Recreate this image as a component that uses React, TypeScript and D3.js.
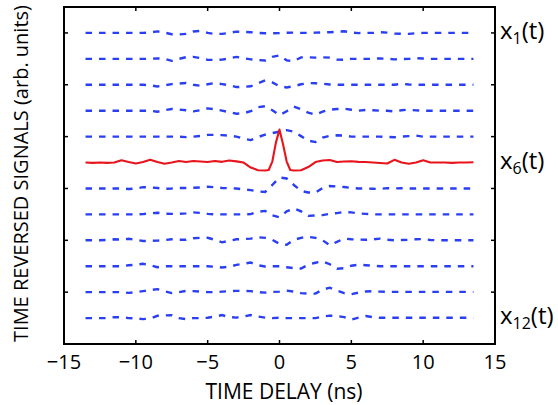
import React from 'react'
import * as d3 from 'd3'

// sample times (ns) for the dashed traces
const times = d3.range(-13.5, 13.51, 0.5)

// time reversed signals, arb. units (one trace spacing = 26 units)
const x1 = [
  0, 0, 0, 0, 0, 0, 0, 0, 0, 0.5,
  1.5, 0.3, -1.3, -1.5, -1, 1.5, 2, 0, -1, -1,
  0, 1.3, 1, 0.7, 0, -0.3, -0.3, -0.2, 0.2, 0.3,
  0, 0, 0.3, 0.5, 0.7, 1.2, 1.7, 0.5, -0.2, 0,
  0, 0.7, 0.3, -0.7, -0.8, -1, -0.3, 0, 0, 0,
  0, 0, 0, 0, 0,
]
const x2 = [
  0, 0, 0, 0, 0, 0, 0, 0, 0, 0,
  0.5, 0, -2, 0, 1.7, 2, 0.7, -1, -1, -0.8,
  0.5, 2, 0.5, -0.5, -1.2, -1.7, 2, 3.5, -1.5, -2.3,
  1.5, 1.5, 1.2, 1.5, 1.2, -0.8, -1, 0, 0, 0,
  0, 0.5, 0, -0.5, -0.3, 0, 0.7, 0.3, 0, 0,
  0, 0, 0, 0, 0,
]
const x3 = [
  0, 0, 0, 0, 0, 0, 0, 0, 0, -0.5,
  -1.7, -0.5, 0.7, 1.2, 1.7, 0, -1, 0.5, 1.7, 0.7,
  -0.5, -2.3, -2, -1.5, 1.5, 4.5, 2.3, -1.5, -2.7, -1.5,
  0.5, 1.7, 1.5, 1, 0.3, 0, 0, 0, 0, 0,
  0, 0, 0, 0, 1, 0.3, 0, 0, 0, 0,
  0, 0, 0, 0, 0,
]
const x4 = [
  0, 0, 0, 0, 0, 0, 0, 0, 0, 0,
  -1, 0.5, 1.7, 1.2, 0.5, -0.7, 0.5, 2.3, 1.5, 0,
  -1.5, -3, -2.5, -0.5, 3.5, 4.5, 0.5, -4.5, -0.5, 4,
  1.5, -2, -4, -1, 1, 1.7, 2, 1, 0, 0.7,
  0.5, 0, 0, -0.7, 0.5, 1, 0.3, 0, 0, 0,
  0, 0, 0, 0, 0,
]
const x5 = [
  0, 0, 0, 0, 0, 0, 0, 0, 0, 0,
  0, 0, 0, 0, -0.5, 0, 0.7, 1.7, 1.7, 1.5,
  1, 0, -2, -3.5, -0.5, 2, 3.5, 5, 6.5, 5,
  0.5, -4, -5.5, -1, 0.7, 1.3, 1, 0, 0, 0,
  0, 0, -0.3, -0.7, 0, 0.5, 1, 0, 0, 0,
  0, 0, 0, 0, 0,
]
const x7 = [
  0, 0, 0, 0, 0, 0, -0.5, 0, 1.3, 1,
  0.5, -0.3, 0, 0.5, 0.5, 0.7, 1, 1.7, 1.2, 0.5,
  0.2, 0, -1, -1.7, -3, -3.5, 3.5, 11, 10, 3.5,
  -2.5, -4, -4.3, 0.5, 2.5, 2, 1.5, 0.5, 0, 0,
  -0.3, -0.5, 0.3, 0, 0.3, 0, 0, 0, 0, 0,
  0, 0, 0, 0, 0,
]
const x8 = [
  0, 0, 0, 0, 0, 0, 0, 0, 0.3, 1,
  1.7, 0.7, 0.5, 0.5, 1, 2, 1.5, 0.5, 0, 0,
  0, 0, 0, 0.3, 2.5, 3.5, -1, -3, 3, 6,
  3, -1.5, -1, -0.7, 0.5, 1.3, 2.5, 2, 1, 0.5,
  0, 0, 0, 0, 0, 0, 0, 0, 0, 0,
  0, 0, 0, 0, 0,
]
const x9 = [
  0, 0, 0, 0.3, 1, 0.8, 1.5, 0.5, -0.7, -0.5,
  -0.3, 0.3, 1, 0.5, 0.5, 2, 2.5, 2.5, 0.5, -2,
  -0.5, 1, 1.3, 1.7, 3, 2.5, 0.5, -3.5, -4.5, 0.5,
  2.5, 3.5, 2.5, 0, -5, -1.5, 1.7, 1, 0.7, 0.5,
  1, 1.7, 0.5, 0, 0.3, 0.5, 1, 1.3, 0.3, 0,
  0, 0, 0, 0, 0,
]
const x10 = [
  0, 0, 0, 0, 0, 0, 1, 1.5, 2.5, 1,
  -1, 0, 0, 0, 0, 0, 0, 0, -0.5, -1.3,
  -0.5, 1.3, 2.5, 3.7, 1, -0.3, 0, 0, -1, -2,
  -2.3, 1.5, 3.5, 5, 2, -2.5, -2, 0.5, 1.5, 1,
  0.5, 0, 0, 0, 0, 0, 0, 0, 0, 0,
  0, 0, 0, 0, 0,
]
const x11 = [
  0, 0, 0, 0, 0, 0, -0.7, 0, 1, 2,
  3, 1, -1, 0, 1.3, 1, 0.5, 0, 0, 0.5,
  1, 1.3, 1.3, 1, 0, -0.5, 0.3, 0.5, 1.5, 0.5,
  -1, -1.5, -1.5, 2.5, 4.5, 1.5, -1, -2, -0.5, 0.7,
  1, 0.5, 0.3, 0.3, 0.3, 0.3, 0.3, 0.3, 0.3, 0.3,
  0.3, 0.3, 0.3, 0.3, 0.3,
]
const x12 = [
  0, 0, 0, 0, 1, 0.7, 0, -0.3, -1, -0.5,
  2.3, 2.7, 3, 0, -1, 0, 0, 0.3, 1.5, 3,
  1, 0.5, 1.5, 3, 1.5, 0.5, 0, 0.3, 0, 0,
  0, 0, 0, 1.5, 2.5, 2, 1, -1.5, 0.5, 2,
  1, 0.3, 0.3, 0.3, 0.3, 0.3, 0.3, 0.3, 0.3, 0.3,
  0.3, 0.3, 0.3, 0.3, 0.3,
]

// focused signal x6(t), sampled finer around the peak
const redTimes = [
  -13.5, -13, -12.5, -12, -11.5, -11, -10.5, -10, -9.5, -9, -8.5, -8, -7.5,
  -7, -6.5, -6, -5.5, -5, -4.5, -4, -3.5, -3, -2.5, -2, -1.5, -1,
  -0.75, -0.5, -0.25, 0, 0.25, 0.5, 0.75,
  1, 1.5, 2, 2.5, 3, 3.5, 4, 4.5, 5, 5.5, 6, 6.5, 7, 7.5, 8, 8.5, 9, 9.5,
  10, 10.5, 11, 11.5, 12, 12.5, 13, 13.5,
]
const x6 = [
  0, -0.3, 0, -0.3, 0, 2.3, 0.5, -1, 0.5, 2.7, 0.5, -1.2, 0,
  1.5, 0.5, 1.5, 1, 0.5, 1.5, 0.7, 2, 1.2, 0, -5, -7.7, -8,
  -7.5, 1, 20, 33, 18, 1, -7.5,
  -8, -7.7, -4.5, 0.5, 2, 2.5, 0.5, 1, 1.3, 0.7, 0.5, 0, -0.5, -1, 2.7, 0, -1.3, 0,
  2.3, 0, 0, 0, -0.3, 0, 0, 0.3,
]

const blueTraces = [x1, x2, x3, x4, x5, null, x7, x8, x9, x10, x11, x12]
const yTicks = [2, 4, 6, 8, 10, 12]
const xTicks = [-15, -10, -5, 0, 5, 10, 15]
const labelTraces = [1, 6, 12]

const W = 558
const H = 405
const GAIN = 1 / 26

const App = () => {
  const x = d3.scaleLinear().domain([-15, 15]).range([64, 495])
  const y = d3.scaleLinear().domain([0, 13]).range([344, 7])
  const font = '"Open Sans", sans-serif'

  const level = (k: number) => 13 - k
  const line = (ts: number[], vs: number[], k: number) =>
    d3
      .line<number>()
      .x((_, i) => x(ts[i]))
      .y((v) => y(level(k) + v * GAIN))(vs) as string

  const [x0, x1p] = x.range()
  const [y0, y1p] = y.range()

  return (
    <svg
      width={W}
      height={H}
      style={{ position: 'absolute', left: 0, top: 0, background: '#fff' }}
    >
      {blueTraces.map((vs, i) =>
        vs ? (
          <path
            key={i}
            d={line(times, vs, i + 1)}
            fill="none"
            stroke="#2a3ef2"
            strokeWidth={2.4}
            strokeDasharray="6.5,7"
          />
        ) : null
      )}
      <path
        d={line(redTimes, x6, 6)}
        fill="none"
        stroke="#e8141c"
        strokeWidth={2.1}
        strokeLinejoin="round"
      />

      <rect
        x={x0}
        y={y1p}
        width={x1p - x0}
        height={y0 - y1p}
        fill="none"
        stroke="#000"
        strokeWidth={2}
      />
      {xTicks.map((t) => (
        <g key={t}>
          <line x1={x(t)} x2={x(t)} y1={y0} y2={y0 - 4} stroke="#000" strokeWidth={1.5} />
          <line x1={x(t)} x2={x(t)} y1={y1p} y2={y1p + 4} stroke="#000" strokeWidth={1.5} />
          <text
            x={x(t)}
            y={369}
            textAnchor="middle"
            fontFamily={font}
            fontSize={20}
            fill="#000"
          >
            {d3.format('d')(t)}
          </text>
        </g>
      ))}
      {yTicks.map((v) => (
        <g key={v}>
          <line x1={x0} x2={x0 + 4} y1={y(v)} y2={y(v)} stroke="#000" strokeWidth={1.5} />
          <line x1={x1p} x2={x1p - 4} y1={y(v)} y2={y(v)} stroke="#000" strokeWidth={1.5} />
        </g>
      ))}

      {labelTraces.map((k) => (
        <text
          key={k}
          x={500}
          y={y(level(k)) + 6}
          fontFamily={font}
          fontSize={24}
          fill="#000"
        >
          x
          <tspan fontSize={16} dy={5}>
            {k}
          </tspan>
          <tspan dy={-5}>(t)</tspan>
        </text>
      ))}

      <text
        x={284}
        y={399}
        textAnchor="middle"
        fontFamily={font}
        fontSize={21}
        fill="#000"
      >
        TIME DELAY (ns)
      </text>
      <text
        transform={`translate(28,${(y0 + y1p) / 2 - 2}) rotate(-90)`}
        textAnchor="middle"
        fontFamily={font}
        fontSize={20}
        fill="#000"
      >
        TIME REVERSED SIGNALS (arb. units)
      </text>
    </svg>
  )
}

export default App
